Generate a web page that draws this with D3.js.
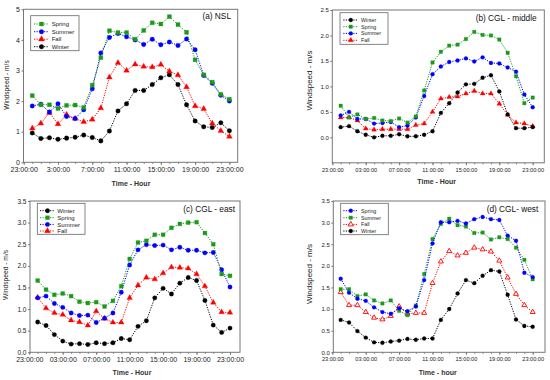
<!doctype html>
<html lang="en">
<head>
  <meta charset="utf-8">
  <title>Windspeed by hour</title>
  <style>
    body { margin: 0; background: #fff; }
    svg { display: block; font-family: "Liberation Sans", Arial, sans-serif; }
  </style>
</head>
<body>
<svg width="550" height="380" id="chart"></svg>

<script src="https://d3js.org/d3.v7.min.js"></script>
<script>
    // hours of the day (0:00 ... 23:00)
    var hours = [0, 1, 2, 3, 4, 5, 6, 7, 8, 9, 10, 11, 12, 13, 14, 15, 16, 17, 18, 19, 20, 21, 22, 23];

    // x ticks: 23:00 of the day before, then every 4 hours
    var tickHours = [-1, 3, 7, 11, 15, 19, 23];
    var tickLabelsNSL = ["23:00:00", "3:00:00", "7:00:00", "11:00:00", "15:00:00", "19:00:00", "23:00:00"];
    var tickLabelsCGL = ["23:00:00", "03:00:00", "07:00:00", "11:00:00", "15:00:00", "19:00:00", "23:00:00"];

    // (a) NSL
    var nslSpring = [2.18, 1.88, 1.88, 1.76, 1.86, 1.87, 1.79, 2.52, 3.42, 4.30, 4.24, 4.24, 4.02, 4.31, 4.56, 4.52, 4.76, 4.50, 4.25, 3.35, 2.86, 2.62, 2.22, 2.06];
    var nslSummer = [1.84, 1.90, 1.64, 1.91, 1.50, 1.43, 1.72, 2.40, 3.57, 4.08, 4.21, 4.10, 4.00, 3.85, 4.02, 3.84, 3.93, 3.82, 4.03, 3.68, 2.84, 2.58, 2.19, 2.00];
    var nslFall   = [1.11, 1.27, 1.62, 1.25, 1.56, 1.43, 1.32, 1.40, 1.77, 2.78, 3.25, 3.00, 3.20, 3.13, 3.11, 3.19, 2.97, 2.85, 2.46, 1.84, 1.75, 1.27, 1.03, 0.84];
    var nslWinter = [0.96, 0.78, 0.80, 0.75, 0.79, 0.82, 0.89, 0.81, 0.70, 1.02, 1.68, 1.91, 2.35, 2.35, 2.54, 2.76, 2.86, 2.54, 1.88, 1.35, 1.16, 1.14, 1.29, 1.03];

    // (b) CGL - middle
    var midWinter = [0.20, 0.22, 0.12, 0.05, 0.00, 0.03, 0.03, 0.06, 0.02, 0.02, 0.05, 0.12, 0.48, 0.67, 0.88, 1.04, 1.05, 1.17, 1.22, 0.90, 0.45, 0.18, 0.18, 0.20];
    var midSpring = [0.62, 0.39, 0.45, 0.36, 0.38, 0.33, 0.32, 0.37, 0.29, 0.41, 0.92, 1.47, 1.68, 1.80, 1.82, 1.93, 2.07, 2.01, 2.00, 1.92, 1.66, 1.20, 0.67, 0.78];
    var midSummer = [0.43, 0.50, 0.36, 0.36, 0.27, 0.28, 0.30, 0.20, 0.23, 0.39, 0.81, 1.24, 1.39, 1.48, 1.51, 1.55, 1.49, 1.57, 1.46, 1.45, 1.37, 1.29, 0.84, 0.59];
    var midFall   = [0.39, 0.39, 0.33, 0.17, 0.15, 0.16, 0.16, 0.16, 0.16, 0.24, 0.27, 0.50, 0.76, 0.79, 0.80, 0.86, 0.91, 0.86, 0.86, 0.66, 0.44, 0.29, 0.27, 0.22];

    // (c) CGL - east
    var eastWinter = [0.70, 0.62, 0.41, 0.26, 0.19, 0.20, 0.18, 0.22, 0.20, 0.22, 0.32, 0.29, 0.60, 0.73, 1.26, 1.48, 1.35, 1.60, 1.73, 1.66, 1.20, 0.63, 0.46, 0.56];
    var eastSpring = [1.66, 1.45, 1.33, 1.36, 1.30, 1.17, 1.14, 1.16, 1.06, 1.19, 1.53, 2.16, 2.54, 2.58, 2.72, 2.72, 2.88, 2.97, 3.00, 3.01, 2.76, 2.50, 1.81, 1.77];
    var eastSummer = [1.26, 1.30, 1.13, 1.04, 0.91, 0.85, 0.86, 0.69, 0.79, 0.91, 1.39, 2.02, 2.37, 2.49, 2.47, 2.48, 2.37, 2.43, 2.36, 2.36, 2.30, 2.31, 1.91, 1.51];
    var eastFall   = [1.27, 1.02, 0.91, 0.87, 0.74, 0.70, 0.62, 0.95, 0.78, 0.69, 0.69, 1.26, 1.55, 1.73, 1.69, 1.83, 1.97, 1.96, 1.94, 1.81, 1.53, 1.15, 0.93, 0.92];

    // (d) CGL - west
    var westSpring = [1.70, 1.38, 1.24, 1.19, 1.04, 0.93, 0.89, 1.02, 0.95, 1.06, 1.67, 2.52, 3.01, 3.01, 3.04, 2.98, 3.08, 3.13, 3.08, 3.06, 2.70, 2.58, 1.84, 1.74];
    var westSummer = [1.46, 1.46, 1.30, 1.34, 1.20, 1.13, 1.20, 0.96, 0.86, 1.08, 1.81, 2.62, 2.97, 3.09, 2.94, 2.91, 2.76, 2.77, 2.61, 2.66, 2.62, 2.42, 2.14, 1.69];
    var westFall   = [1.39, 1.09, 1.09, 0.93, 0.80, 0.76, 0.84, 1.06, 0.89, 0.91, 0.91, 1.60, 2.10, 2.34, 2.24, 2.30, 2.42, 2.38, 2.33, 2.12, 1.73, 1.35, 1.09, 0.93];
    var westWinter = [0.75, 0.69, 0.49, 0.34, 0.23, 0.22, 0.25, 0.27, 0.31, 0.29, 0.32, 0.32, 0.75, 1.00, 1.36, 1.67, 1.60, 1.77, 1.90, 1.87, 1.33, 0.76, 0.61, 0.59];

    var GREEN = "#1a9a1a", BLUE = "#0000ff", RED = "#ff0000", BLACK = "#000000";

    var svg = d3.select("#chart");

    function drawPanel(p) {
        var g = svg.append("g");

        var x = d3.scaleLinear().domain([-1, 23]).range([p.xStart, p.xEnd]);
        var y = d3.scaleLinear().domain(p.yDomain).range([p.bottom, p.top]);

        // hourly minor ticks on x
        g.append("g")
            .attr("transform", "translate(0," + p.bottom + ")")
            .call(d3.axisBottom(x).tickValues(d3.range(-1, 24)).tickSize(1.5).tickFormat(""))
            .call(function (a) { a.select(".domain").remove(); a.selectAll("line").attr("stroke", "#777"); });

        // major x ticks + labels
        g.append("g")
            .attr("transform", "translate(0," + p.bottom + ")")
            .call(d3.axisBottom(x).tickValues(tickHours).tickSize(2.5).tickPadding(p.xPad)
                .tickFormat(function (d, i) { return p.tickLabels[i]; }))
            .call(function (a) {
                a.select(".domain").remove();
                a.selectAll("line").attr("stroke", "#777");
                a.selectAll("text").attr("font-size", p.tickFont).attr("fill", "#222")
                    .attr("font-family", "Liberation Sans, Arial, sans-serif");
            });

        // y axis
        g.append("g")
            .attr("transform", "translate(" + p.left + ",0)")
            .call(d3.axisLeft(y).tickValues(p.yTicks).tickSize(2).tickPadding(1.5).tickFormat(p.yFormat))
            .call(function (a) {
                a.select(".domain").remove();
                a.selectAll("line").attr("stroke", "#777");
                a.selectAll("text").attr("font-size", p.yTickFont).attr("fill", "#222")
                    .attr("font-family", "Liberation Sans, Arial, sans-serif");
            });

        // frame
        g.append("rect")
            .attr("x", p.left).attr("y", p.top)
            .attr("width", p.right - p.left).attr("height", p.bottom - p.top)
            .attr("fill", "none").attr("stroke", "#777").attr("stroke-width", 1);

        var line = d3.line()
            .x(function (d, i) { return x(hours[i]); })
            .y(function (d) { return y(d); });

        // series, drawn in reverse legend order so the first one sits on top
        p.series.slice().reverse().forEach(function (s) {
            g.append("path")
                .datum(s.values)
                .attr("d", line)
                .attr("fill", "none")
                .attr("stroke", s.color)
                .attr("stroke-width", 1)
                .attr("stroke-dasharray", "1.2,1.3");

            g.selectAll(null)
                .data(s.values)
                .enter().append("path")
                .attr("transform", function (d, i) { return "translate(" + x(hours[i]) + "," + y(d) + ")"; })
                .attr("d", d3.symbol().type(s.shape).size(s.shape === d3.symbolTriangle ? p.mSize * 0.9 : p.mSize))
                .attr("fill", s.open ? "#fff" : s.color)
                .attr("stroke", s.color)
                .attr("stroke-width", s.open ? 0.9 : 0.3);
        });

        // legend
        var lg = p.legend;
        g.append("rect")
            .attr("x", lg.x0).attr("y", lg.y0)
            .attr("width", lg.x1 - lg.x0).attr("height", lg.y1 - lg.y0)
            .attr("fill", "#fff").attr("stroke", "#666").attr("stroke-width", 0.8);

        p.series.forEach(function (s, i) {
            var yy = lg.rows[i];
            g.append("line")
                .attr("x1", lg.lineX0).attr("x2", lg.lineX1)
                .attr("y1", yy).attr("y2", yy)
                .attr("stroke", s.color).attr("stroke-width", 1)
                .attr("stroke-dasharray", "1.2,1.3");
            g.append("path")
                .attr("transform", "translate(" + (lg.lineX0 + lg.lineX1) / 2 + "," + yy + ")")
                .attr("d", d3.symbol().type(s.shape).size(p.mSize))
                .attr("fill", s.open ? "#fff" : s.color)
                .attr("stroke", s.color)
                .attr("stroke-width", s.open ? 0.9 : 0.3);
            g.append("text")
                .attr("x", lg.textX).attr("y", yy)
                .attr("dy", "0.35em")
                .attr("font-size", lg.font)
                .attr("fill", "#222")
                .text(s.name);
        });

        // panel title
        g.append("text")
            .attr("x", p.titleX).attr("y", p.titleY)
            .attr("text-anchor", "end")
            .attr("font-size", 8.3)
            .attr("fill", "#111")
            .text(p.title);

        // axis titles
        g.append("text")
            .attr("x", p.xTitleX).attr("y", p.xTitleY)
            .attr("text-anchor", "middle")
            .attr("font-size", 7)
            .attr("font-weight", "bold")
            .attr("fill", "#333")
            .text(p.xTitle);

        g.append("text")
            .attr("transform", "translate(" + p.yTitleX + "," + p.yTitleY + ") rotate(-90)")
            .attr("text-anchor", "middle")
            .attr("dy", "0.35em")
            .attr("font-size", p.yTitleFont)
            .attr("fill", "#222")
            .text("Windspeed - m/s");
    }

    var f1 = d3.format(".1f");
    var f0 = d3.format("d");

    drawPanel({
        title: "(a) NSL", titleX: 231, titleY: 19.3,
        left: 23.5, right: 237.7, top: 9.3, bottom: 162.3,
        xStart: 23.7, xEnd: 229.4,
        yDomain: [0, 5], yTicks: [0, 1, 2, 3, 4, 5], yFormat: f0,
        tickLabels: tickLabelsNSL, tickFont: 7, yTickFont: 7, xPad: 2.5,
        xTitle: "Time - Hour", xTitleX: 131, xTitleY: 186,
        yTitleX: 6.5, yTitleY: 85, yTitleFont: 6.6,
        mSize: 16,
        legend: { x0: 30.7, x1: 79, y0: 15.7, y1: 50.7, rows: [24, 31.7, 39.2, 46.7],
                  lineX0: 34, lineX1: 49, textX: 51.7, font: 6 },
        series: [
            { name: "Spring", values: nslSpring, color: GREEN, shape: d3.symbolSquare },
            { name: "Summer", values: nslSummer, color: BLUE, shape: d3.symbolCircle },
            { name: "Fall", values: nslFall, color: RED, shape: d3.symbolTriangle },
            { name: "Winter", values: nslWinter, color: BLACK, shape: d3.symbolCircle }
        ]
    });

    drawPanel({
        title: "(b) CGL - middle", titleX: 536.7, titleY: 21.3,
        left: 332.3, right: 544.3, top: 10, bottom: 162.8,
        xStart: 332.35, xEnd: 532.7,
        yDomain: [-0.5, 2.5], yTicks: [0, 0.5, 1, 1.5, 2, 2.5], yFormat: f1,
        tickLabels: tickLabelsCGL, tickFont: 5.6, yTickFont: 6, xPad: 2.5,
        xTitle: "Time - Hour", xTitleX: 436.7, xTitleY: 184,
        yTitleX: 309.3, yTitleY: 80.5, yTitleFont: 8,
        mSize: 12,
        legend: { x0: 340, x1: 388, y0: 12.7, y1: 44.3, rows: [20, 26.7, 33.4, 40.3],
                  lineX0: 343.3, lineX1: 358.3, textX: 361, font: 5.3 },
        series: [
            { name: "Winter", values: midWinter, color: BLACK, shape: d3.symbolCircle },
            { name: "Spring", values: midSpring, color: GREEN, shape: d3.symbolSquare },
            { name: "Summer", values: midSummer, color: BLUE, shape: d3.symbolCircle },
            { name: "Fall", values: midFall, color: RED, shape: d3.symbolTriangle }
        ]
    });

    drawPanel({
        title: "(c) CGL - east", titleX: 235, titleY: 212,
        left: 30, right: 240, top: 201, bottom: 352.3,
        xStart: 29.3, xEnd: 230,
        yDomain: [0, 3.5], yTicks: [0, 0.5, 1, 1.5, 2, 2.5, 3, 3.5], yFormat: f1,
        tickLabels: tickLabelsCGL, tickFont: 7, yTickFont: 6.5, xPad: 2.5,
        xTitle: "Time - Hour", xTitleX: 132, xTitleY: 375,
        yTitleX: 6, yTitleY: 275, yTitleFont: 6.7,
        mSize: 15,
        legend: { x0: 37.3, x1: 85, y0: 203.3, y1: 234.3, rows: [210.7, 217.7, 224.4, 231],
                  lineX0: 40, lineX1: 55, textX: 57.3, font: 6 },
        series: [
            { name: "Winter", values: eastWinter, color: BLACK, shape: d3.symbolCircle },
            { name: "Spring", values: eastSpring, color: GREEN, shape: d3.symbolSquare },
            { name: "Summer", values: eastSummer, color: BLUE, shape: d3.symbolCircle },
            { name: "Fall", values: eastFall, color: RED, shape: d3.symbolTriangle }
        ]
    });

    drawPanel({
        title: "(d) CGL- west", titleX: 538.3, titleY: 212,
        left: 333.3, right: 545, top: 201, bottom: 352.3,
        xStart: 332.35, xEnd: 532.7,
        yDomain: [0, 3.5], yTicks: [0, 0.5, 1, 1.5, 2, 2.5, 3, 3.5], yFormat: f1,
        tickLabels: tickLabelsCGL, tickFont: 5.6, yTickFont: 6, xPad: 2.5,
        xTitle: "Time - hour", xTitleX: 437.7, xTitleY: 375,
        yTitleX: 309, yTitleY: 274, yTitleFont: 8,
        mSize: 12,
        legend: { x0: 340.7, x1: 388.3, y0: 203.3, y1: 234.7, rows: [210.7, 217.7, 224.4, 231],
                  lineX0: 343.3, lineX1: 358.3, textX: 361, font: 5.3 },
        series: [
            { name: "Spring", values: westSpring, color: BLUE, shape: d3.symbolCircle },
            { name: "Summer", values: westSummer, color: GREEN, shape: d3.symbolSquare },
            { name: "Fall", values: westFall, color: RED, shape: d3.symbolTriangle, open: true },
            { name: "Winter", values: westWinter, color: BLACK, shape: d3.symbolCircle }
        ]
    });
</script>
</body>
</html>
